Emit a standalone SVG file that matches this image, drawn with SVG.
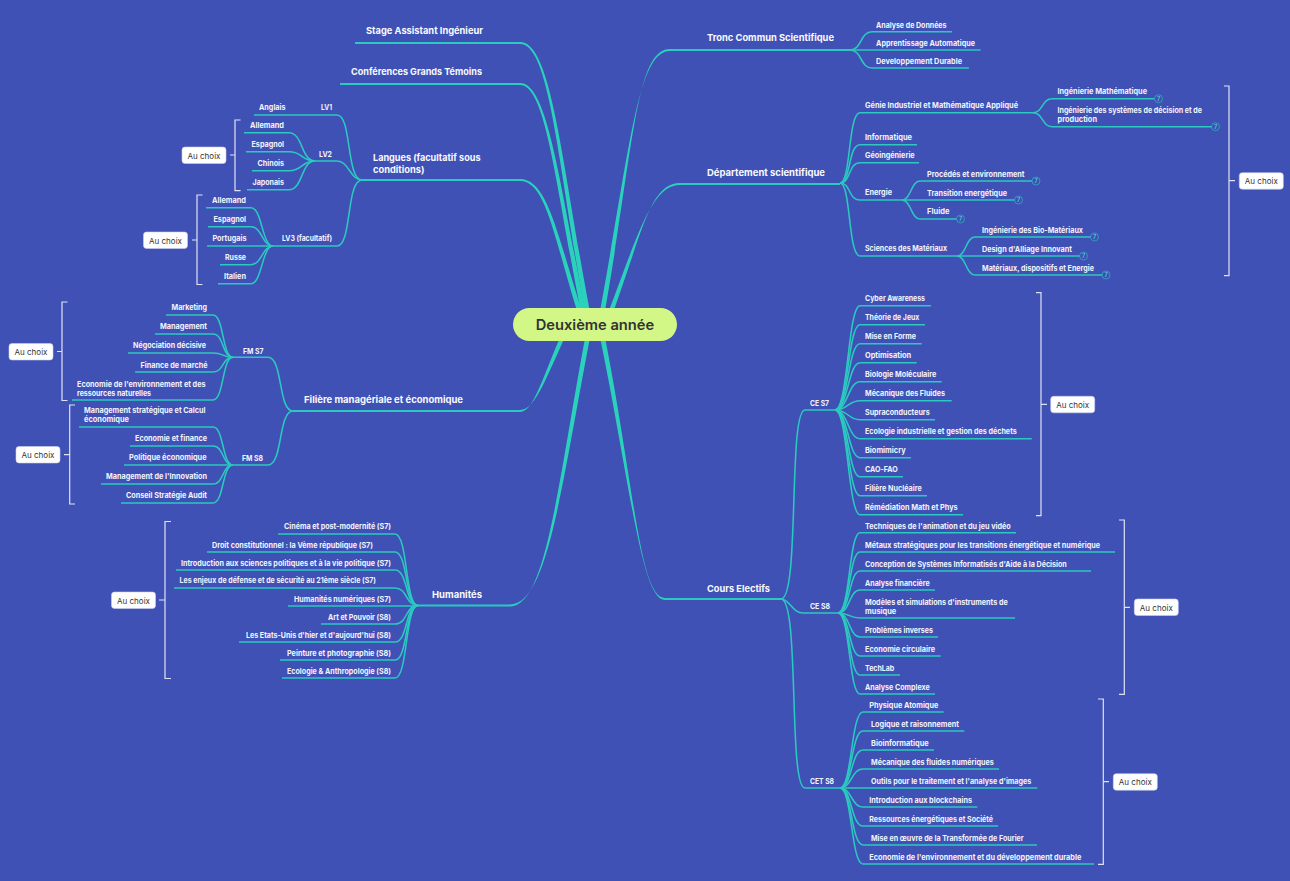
<svg xmlns="http://www.w3.org/2000/svg" width="1290" height="881" viewBox="0 0 1290 881">
<style>
text{font-family:"Inter","Liberation Sans",sans-serif;dominant-baseline:central}
.s{font-size:7.8px;font-weight:700;fill:#f2f3fc}
.m{font-size:9.4px;font-weight:700;fill:#f8f9fe}
.b{font-size:8px;font-weight:400;fill:#333;text-anchor:middle}
.root{font-size:14.5px;font-weight:600;fill:#333}
.bx{fill:#fff;stroke:#c9cdec;stroke-width:.6}
.br{fill:none;stroke:#dfe2f5;stroke-width:1.2}
.l0{fill:none;stroke:#2bc9bf;stroke-width:1.9}
.l1{fill:none;stroke:#2bc9bf;stroke-width:1.55}
.tp{fill:#2bd2bb}
.bd{fill:#3f51b5;stroke:#2bb6c4;stroke-width:.7}
.bt{font-size:5.5px;font-weight:600;fill:#4fd0d0;text-anchor:middle}
</style>
<rect width="1290" height="881" fill="#3f51b5"/>
<g id="connectors">
<path class="l0" d="M355,43H520M340,84H520M362,180H520M293,411H520M418,605.5H510M670,50H850M680,184H840M665,599H781"/>
<path class="tp" d="M520,42C553,42 562,170 592.5,325L587.5,325C558,170 551,44 520,44Z"/>
<path class="tp" d="M520,83C549,83 560,190 588.5,325L583.5,325C556,190 547,85 520,85Z"/>
<path class="tp" d="M520,179C549,179 558,240 586.5,325L581.5,325C554,240 547,181 520,181Z"/>
<path class="tp" d="M520,410C536,410 547,375 570.5,325L565.5,325C543,375 534,412 520,412Z"/>
<path class="tp" d="M510,604.5C549,604.5 562,480 592.5,325L587.5,325C558,480 547,606.5 510,606.5Z"/>
<path class="tp" d="M670,49C635,49 634,150 602.5,325L597.5,325C630,150 637,51 670,51Z"/>
<path class="tp" d="M680,183C649,183 642,235 608.5,325L603.5,325C638,235 651,185 680,185Z"/>
<path class="tp" d="M665,598C639,598 634,480 602.5,325L597.5,325C630,480 641,600 665,600Z"/>
<g class="l1">
<path d="M254,115H337C352,115 346,180 362,180"/>
<path d="M315,161H337C349,161 350,180 362,180"/>
<path d="M273,246H337C352,246 346,180 362,180"/>
<path d="M244,132.7H289C303,132.7 301,161 315,161"/>
<path d="M246,151.7H289C303,151.7 301,161 315,161"/>
<path d="M252,170.7H289C303,170.7 301,161 315,161"/>
<path d="M247,189.7H289C303,189.7 301,161 315,161"/>
<path d="M206,207.7H251C262,207.7 262,246 273,246"/>
<path d="M208,226.7H251C262,226.7 262,246 273,246"/>
<path d="M207,246H273"/>
<path d="M220,264.7H251C262,264.7 262,246 273,246"/>
<path d="M218,283.7H251C262,283.7 262,246 273,246"/>
<path d="M233,357.3H268C283,357.3 278,411 293,411"/>
<path d="M233,465H268C283,465 278,411 293,411"/>
<path d="M166,315H213C224,315 222,357.3 233,357.3"/>
<path d="M155,334H213C224,334 222,357.3 233,357.3"/>
<path d="M128,353H213C224,353 222,357.3 233,357.3"/>
<path d="M135,372H213C224,372 222,357.3 233,357.3"/>
<path d="M72,400H213C224,400 222,357.3 233,357.3"/>
<path d="M79,427H213C224,427 222,465 233,465"/>
<path d="M130,446H213C224,446 222,465 233,465"/>
<path d="M124,465H233"/>
<path d="M101,484H213C224,484 222,465 233,465"/>
<path d="M121,503H213C224,503 222,465 233,465"/>
<path d="M278,534H395C408,534 405,605.5 418,605.5"/>
<path d="M207,552H395C408,552 405,605.5 418,605.5"/>
<path d="M176,570H395C408,570 405,605.5 418,605.5"/>
<path d="M174,588H395C408,588 405,605.5 418,605.5"/>
<path d="M288,606H418"/>
<path d="M321,624H395C408,624 405,605.5 418,605.5"/>
<path d="M239,642H395C408,642 405,605.5 418,605.5"/>
<path d="M280,660H395C408,660 405,605.5 418,605.5"/>
<path d="M282,678H395C408,678 405,605.5 418,605.5"/>
<path d="M952,31.7H872C860,31.7 862,50 850,50"/>
<path d="M980.5,50H850"/>
<path d="M969,68H872C860,68 862,50 850,50"/>
<path d="M1033,112.7H860C848,112.7 851,183 840,183"/>
<path d="M917,144.7H860C848,144.7 851,183 840,183"/>
<path d="M919,162.7H860C848,162.7 851,183 840,183"/>
<path d="M902,200H860C848,200 851,183 840,183"/>
<path d="M957,256H860C848,256 851,183 840,183"/>
<path d="M1155,98.7H1052C1042,98.7 1043,112.7 1033,112.7"/>
<path d="M1212,126.7H1052C1042,126.7 1043,112.7 1033,112.7"/>
<path d="M1033,181H920C911,181 911,200 902,200"/>
<path d="M1015,200H902"/>
<path d="M957,219H920C911,219 911,200 902,200"/>
<path d="M1091,237H975C966,237 966,256 957,256"/>
<path d="M1080,256H957"/>
<path d="M1103,275H975C966,275 966,256 957,256"/>
<path d="M805,410H835M781,599C800,599 788,410 805,410"/>
<path d="M803,613H838M781,599C790,599 792,613 803,613"/>
<path d="M805,788H840M781,599C800,599 788,788 805,788"/>
<path d="M931,305.7H860C848,305.7 848,410 835,410"/>
<path d="M925,324.7H860C848,324.7 848,410 835,410"/>
<path d="M921.7,343.7H860C848,343.7 848,410 835,410"/>
<path d="M916.7,362.7H860C848,362.7 848,410 835,410"/>
<path d="M941.7,381.7H860C848,381.7 848,410 835,410"/>
<path d="M951.7,400.7H860C848,400.7 848,410 835,410"/>
<path d="M935,419.7H860C848,419.7 848,410 835,410"/>
<path d="M1031.7,438.7H860C848,438.7 848,410 835,410"/>
<path d="M911,457.7H860C848,457.7 848,410 835,410"/>
<path d="M903,476.7H860C848,476.7 848,410 835,410"/>
<path d="M927,495.7H860C848,495.7 848,410 835,410"/>
<path d="M963,514.7H860C848,514.7 848,410 835,410"/>
<path d="M1016,532.7H860C849,532.7 850,613 838,613"/>
<path d="M1115,552H860C849,552 850,613 838,613"/>
<path d="M1091,571H860C849,571 850,613 838,613"/>
<path d="M935,590H860C849,590 850,613 838,613"/>
<path d="M1015,618H860C849,618 850,613 838,613"/>
<path d="M938,637H860C849,637 850,613 838,613"/>
<path d="M940.7,656H860C849,656 850,613 838,613"/>
<path d="M900,675H860C849,675 850,613 838,613"/>
<path d="M935,694H860C849,694 850,613 838,613"/>
<path d="M943.7,712H863C851,712 852,788 840,788"/>
<path d="M964.3,731H863C851,731 852,788 840,788"/>
<path d="M934,750H863C851,750 852,788 840,788"/>
<path d="M999,769H863C851,769 852,788 840,788"/>
<path d="M1037.3,788H840"/>
<path d="M977.3,807H863C851,807 852,788 840,788"/>
<path d="M998,826H863C851,826 852,788 840,788"/>
<path d="M1037,845H863C851,845 852,788 840,788"/>
<path d="M1094,864H863C851,864 852,788 840,788"/>
</g>
</g>
<g id="brackets">
<path class="br" d="M240.6,120H235V190.7H240.6M235,155H230"/>
<path class="br" d="M202.5,195H197V284.5H202.5M197,240H192"/>
<path class="br" d="M67.5,302H62V400.5H67.5M62,351.5H57"/>
<path class="br" d="M75,405H69.7V504H75M69.7,454.7H64"/>
<path class="br" d="M171,521.5H165V678.5H171M165,600H159"/>
<path class="br" d="M1224,86H1229V275.7H1224M1229,180.7H1235"/>
<path class="br" d="M1036,292.7H1041V515.7H1036M1041,404.3H1047"/>
<path class="br" d="M1119,520H1124.3V694.3H1119M1124.3,607.3H1130"/>
<path class="br" d="M1098,699H1103.3V864.3H1098M1103.3,781.7H1109"/>
</g>
<g id="root"><rect x="513" y="308" width="164" height="33" rx="16.5" fill="#d2f786"/><text class="root" x="535.7" y="324.5" textLength="118.5" lengthAdjust="spacingAndGlyphs">Deuxième année</text></g>
<g id="stage"><text class="m" x="366" y="30.5" textLength="117" lengthAdjust="spacingAndGlyphs">Stage Assistant Ingénieur</text></g>
<g id="conferences"><text class="m" x="351" y="71.5" textLength="131" lengthAdjust="spacingAndGlyphs">Conférences Grands Témoins</text></g>
<g id="langues"><text class="m" x="373" y="157" textLength="107.5" lengthAdjust="spacingAndGlyphs">Langues (facultatif sous</text><text class="m" x="373" y="169" textLength="51.5" lengthAdjust="spacingAndGlyphs">conditions)</text></g>
<g id="filiere"><text class="m" x="304" y="399.5" textLength="159" lengthAdjust="spacingAndGlyphs">Filière managériale et économique</text></g>
<g id="humanites"><text class="m" x="432" y="594" textLength="50" lengthAdjust="spacingAndGlyphs">Humanités</text></g>
<g id="tronc"><text class="m" x="707" y="37.5" textLength="127" lengthAdjust="spacingAndGlyphs">Tronc Commun Scientifique</text></g>
<g id="departement"><text class="m" x="707" y="172.5" textLength="118" lengthAdjust="spacingAndGlyphs">Département scientifique</text></g>
<g id="cours"><text class="m" x="707" y="588" textLength="63" lengthAdjust="spacingAndGlyphs">Cours Electifs</text></g>
<g id="lv1"><text class="s" x="321" y="107" textLength="11" lengthAdjust="spacingAndGlyphs">LV1</text></g>
<g id="lv2"><text class="s" x="319" y="154" textLength="13" lengthAdjust="spacingAndGlyphs">LV2</text></g>
<g id="lv3"><text class="s" x="282" y="238" textLength="50" lengthAdjust="spacingAndGlyphs">LV3 (facultatif)</text></g>
<g id="anglais"><text class="s" x="259" y="107" textLength="26.5" lengthAdjust="spacingAndGlyphs">Anglais</text></g>
<g id="lv2-1"><text class="s" x="250" y="125" textLength="34" lengthAdjust="spacingAndGlyphs">Allemand</text></g>
<g id="lv2-2"><text class="s" x="251.5" y="144" textLength="32.5" lengthAdjust="spacingAndGlyphs">Espagnol</text></g>
<g id="lv2-3"><text class="s" x="257.5" y="163" textLength="26.5" lengthAdjust="spacingAndGlyphs">Chinois</text></g>
<g id="lv2-4"><text class="s" x="252.5" y="182" textLength="31.5" lengthAdjust="spacingAndGlyphs">Japonais</text></g>
<g id="lv3-1"><text class="s" x="212" y="200" textLength="34" lengthAdjust="spacingAndGlyphs">Allemand</text></g>
<g id="lv3-2"><text class="s" x="213.5" y="219" textLength="32.5" lengthAdjust="spacingAndGlyphs">Espagnol</text></g>
<g id="lv3-3"><text class="s" x="212.5" y="238" textLength="34" lengthAdjust="spacingAndGlyphs">Portugais</text></g>
<g id="lv3-4"><text class="s" x="225" y="257" textLength="21" lengthAdjust="spacingAndGlyphs">Russe</text></g>
<g id="lv3-5"><text class="s" x="224" y="276" textLength="22" lengthAdjust="spacingAndGlyphs">Italien</text></g>
<g id="fms7"><text class="s" x="243" y="350.5" textLength="20.5" lengthAdjust="spacingAndGlyphs">FM S7</text></g>
<g id="fms8"><text class="s" x="242" y="457.5" textLength="21" lengthAdjust="spacingAndGlyphs">FM S8</text></g>
<g id="f7-1"><text class="s" x="171.5" y="307" textLength="35.5" lengthAdjust="spacingAndGlyphs">Marketing</text></g>
<g id="f7-2"><text class="s" x="160" y="326" textLength="47" lengthAdjust="spacingAndGlyphs">Management</text></g>
<g id="f7-3"><text class="s" x="133" y="345" textLength="73" lengthAdjust="spacingAndGlyphs">Négociation décisive</text></g>
<g id="f7-4"><text class="s" x="140.5" y="364.5" textLength="67" lengthAdjust="spacingAndGlyphs">Finance de marché</text></g>
<g id="f7-5"><text class="s" x="77" y="383.5" textLength="128.5" lengthAdjust="spacingAndGlyphs">Economie de l'environnement et des</text><text class="s" x="77" y="392.5" textLength="74" lengthAdjust="spacingAndGlyphs">ressources naturelles</text></g>
<g id="f8-1"><text class="s" x="84" y="410" textLength="121.5" lengthAdjust="spacingAndGlyphs">Management stratégique et Calcul</text><text class="s" x="84" y="419" textLength="45" lengthAdjust="spacingAndGlyphs">économique</text></g>
<g id="f8-2"><text class="s" x="135" y="438" textLength="72" lengthAdjust="spacingAndGlyphs">Economie et finance</text></g>
<g id="f8-3"><text class="s" x="129" y="457" textLength="77.5" lengthAdjust="spacingAndGlyphs">Politique économique</text></g>
<g id="f8-4"><text class="s" x="106" y="476" textLength="101" lengthAdjust="spacingAndGlyphs">Management de l'Innovation</text></g>
<g id="f8-5"><text class="s" x="126" y="495" textLength="81" lengthAdjust="spacingAndGlyphs">Conseil Stratégie Audit</text></g>
<g id="h-1"><text class="s" x="284" y="526" textLength="107" lengthAdjust="spacingAndGlyphs">Cinéma et post-modernité (S7)</text></g>
<g id="h-2"><text class="s" x="212" y="544.5" textLength="161" lengthAdjust="spacingAndGlyphs">Droit constitutionnel : la Vème république (S7)</text></g>
<g id="h-3"><text class="s" x="181" y="562.5" textLength="210" lengthAdjust="spacingAndGlyphs">Introduction aux sciences politiques et à la vie politique (S7)</text></g>
<g id="h-4"><text class="s" x="179.5" y="580" textLength="196.5" lengthAdjust="spacingAndGlyphs">Les enjeux de défense et de sécurité au 21ème siècle (S7)</text></g>
<g id="h-5"><text class="s" x="294" y="598.5" textLength="97" lengthAdjust="spacingAndGlyphs">Humanités numériques (S7)</text></g>
<g id="h-6"><text class="s" x="328" y="616.5" textLength="63" lengthAdjust="spacingAndGlyphs">Art et Pouvoir (S8)</text></g>
<g id="h-7"><text class="s" x="246" y="634.5" textLength="145" lengthAdjust="spacingAndGlyphs">Les Etats-Unis d'hier et d'aujourd'hui  (S8)</text></g>
<g id="h-8"><text class="s" x="287" y="652.5" textLength="104" lengthAdjust="spacingAndGlyphs">Peinture et photographie (S8)</text></g>
<g id="h-9"><text class="s" x="287" y="670.5" textLength="104" lengthAdjust="spacingAndGlyphs">Ecologie &amp; Anthropologie (S8)</text></g>
<g id="t-1"><text class="s" x="876" y="24.5" textLength="70.5" lengthAdjust="spacingAndGlyphs">Analyse de Données</text></g>
<g id="t-2"><text class="s" x="876" y="42.5" textLength="99" lengthAdjust="spacingAndGlyphs">Apprentissage Automatique</text></g>
<g id="t-3"><text class="s" x="876" y="60.5" textLength="86" lengthAdjust="spacingAndGlyphs">Developpement Durable</text></g>
<g id="d-1"><text class="s" x="865" y="105" textLength="153" lengthAdjust="spacingAndGlyphs">Génie Industriel et Mathématique Appliqué</text></g>
<g id="d-2"><text class="s" x="865" y="137" textLength="47" lengthAdjust="spacingAndGlyphs">Informatique</text></g>
<g id="d-3"><text class="s" x="865" y="155" textLength="49.7" lengthAdjust="spacingAndGlyphs">Géoingénierie</text></g>
<g id="d-4"><text class="s" x="865" y="192" textLength="27" lengthAdjust="spacingAndGlyphs">Energie</text></g>
<g id="d-5"><text class="s" x="865" y="248" textLength="82" lengthAdjust="spacingAndGlyphs">Sciences des Matériaux</text></g>
<g id="d-1-1"><text class="s" x="1057.5" y="91" textLength="89.5" lengthAdjust="spacingAndGlyphs">Ingénierie Mathématique</text><circle class="bd" cx="1158.5" cy="98.7" r="4"/><text class="bt" x="1158.5" y="98.9">7</text></g>
<g id="d-1-2"><text class="s" x="1057.5" y="110" textLength="144.5" lengthAdjust="spacingAndGlyphs">Ingénierie des systèmes de décision et de</text><text class="s" x="1057.5" y="119" textLength="39.5" lengthAdjust="spacingAndGlyphs">production</text><circle class="bd" cx="1215.5" cy="126.7" r="4"/><text class="bt" x="1215.5" y="126.9">7</text></g>
<g id="d-4-1"><text class="s" x="927" y="173.5" textLength="97.5" lengthAdjust="spacingAndGlyphs">Procédés et environnement</text><circle class="bd" cx="1036" cy="181" r="4"/><text class="bt" x="1036" y="181.2">7</text></g>
<g id="d-4-2"><text class="s" x="927" y="192.5" textLength="80" lengthAdjust="spacingAndGlyphs">Transition energétique</text><circle class="bd" cx="1018.5" cy="200" r="4"/><text class="bt" x="1018.5" y="200.2">7</text></g>
<g id="d-4-3"><text class="s" x="927" y="211" textLength="22.5" lengthAdjust="spacingAndGlyphs">Fluide</text><circle class="bd" cx="960.5" cy="219" r="4"/><text class="bt" x="960.5" y="219.2">7</text></g>
<g id="d-5-1"><text class="s" x="982" y="229.5" textLength="101" lengthAdjust="spacingAndGlyphs">Ingénierie des Bio-Matériaux</text><circle class="bd" cx="1094.5" cy="237" r="4"/><text class="bt" x="1094.5" y="237.2">7</text></g>
<g id="d-5-2"><text class="s" x="982" y="248.5" textLength="90" lengthAdjust="spacingAndGlyphs">Design d'Alliage Innovant</text><circle class="bd" cx="1083.5" cy="256" r="4"/><text class="bt" x="1083.5" y="256.2">7</text></g>
<g id="d-5-3"><text class="s" x="982" y="267.5" textLength="112" lengthAdjust="spacingAndGlyphs">Matériaux, dispositifs et Energie</text><circle class="bd" cx="1106" cy="275" r="4"/><text class="bt" x="1106" y="275.2">7</text></g>
<g id="ces7"><text class="s" x="810" y="403" textLength="19" lengthAdjust="spacingAndGlyphs">CE S7</text></g>
<g id="ces8"><text class="s" x="810" y="606" textLength="20" lengthAdjust="spacingAndGlyphs">CE S8</text></g>
<g id="cets8"><text class="s" x="810" y="781" textLength="24" lengthAdjust="spacingAndGlyphs">CET S8</text></g>
<g id="c7-1"><text class="s" x="865" y="298.3" textLength="60" lengthAdjust="spacingAndGlyphs">Cyber Awareness</text></g>
<g id="c7-2"><text class="s" x="865" y="317.3" textLength="54.3" lengthAdjust="spacingAndGlyphs">Théorie de Jeux</text></g>
<g id="c7-3"><text class="s" x="865" y="336.3" textLength="51" lengthAdjust="spacingAndGlyphs">Mise en Forme</text></g>
<g id="c7-4"><text class="s" x="865" y="355.3" textLength="46" lengthAdjust="spacingAndGlyphs">Optimisation</text></g>
<g id="c7-5"><text class="s" x="865" y="374.3" textLength="71.3" lengthAdjust="spacingAndGlyphs">Biologie Moléculaire</text></g>
<g id="c7-6"><text class="s" x="865" y="393.3" textLength="80" lengthAdjust="spacingAndGlyphs">Mécanique des Fluides</text></g>
<g id="c7-7"><text class="s" x="865" y="412.3" textLength="64.7" lengthAdjust="spacingAndGlyphs">Supraconducteurs</text></g>
<g id="c7-8"><text class="s" x="865" y="431.3" textLength="151.7" lengthAdjust="spacingAndGlyphs">Ecologie industrielle et gestion des déchets</text></g>
<g id="c7-9"><text class="s" x="865" y="450.3" textLength="40.7" lengthAdjust="spacingAndGlyphs">Biomimicry</text></g>
<g id="c7-10"><text class="s" x="865" y="469.3" textLength="32.7" lengthAdjust="spacingAndGlyphs">CAO-FAO</text></g>
<g id="c7-11"><text class="s" x="865" y="488.3" textLength="56.7" lengthAdjust="spacingAndGlyphs">Filière Nucléaire</text></g>
<g id="c7-12"><text class="s" x="865" y="507.3" textLength="92.7" lengthAdjust="spacingAndGlyphs">Rémédiation Math et Phys</text></g>
<g id="c8-1"><text class="s" x="865" y="525.5" textLength="145.7" lengthAdjust="spacingAndGlyphs">Techniques de l'animation et du jeu vidéo</text></g>
<g id="c8-2"><text class="s" x="865" y="544.5" textLength="235" lengthAdjust="spacingAndGlyphs">Métaux stratégiques pour les transitions énergétique et numérique</text></g>
<g id="c8-3"><text class="s" x="865" y="563.5" textLength="201.7" lengthAdjust="spacingAndGlyphs">Conception de Systèmes Informatisés d'Aide à la Décision</text></g>
<g id="c8-4"><text class="s" x="865" y="582.5" textLength="64.7" lengthAdjust="spacingAndGlyphs">Analyse financière</text></g>
<g id="c8-5"><text class="s" x="865" y="601.5" textLength="142.7" lengthAdjust="spacingAndGlyphs">Modèles et simulations d'instruments de</text><text class="s" x="865" y="610.5" textLength="31.3" lengthAdjust="spacingAndGlyphs">musique</text></g>
<g id="c8-6"><text class="s" x="865" y="629.5" textLength="68" lengthAdjust="spacingAndGlyphs">Problèmes inverses</text></g>
<g id="c8-7"><text class="s" x="865" y="648.5" textLength="70" lengthAdjust="spacingAndGlyphs">Economie circulaire</text></g>
<g id="c8-8"><text class="s" x="865" y="667.5" textLength="29.3" lengthAdjust="spacingAndGlyphs">TechLab</text></g>
<g id="c8-9"><text class="s" x="865" y="686.5" textLength="64.7" lengthAdjust="spacingAndGlyphs">Analyse Complexe</text></g>
<g id="e-1"><text class="s" x="869.3" y="704.5" textLength="69" lengthAdjust="spacingAndGlyphs">Physique Atomique</text></g>
<g id="e-2"><text class="s" x="871" y="723.5" textLength="88" lengthAdjust="spacingAndGlyphs">Logique et raisonnement</text></g>
<g id="e-3"><text class="s" x="871" y="742.5" textLength="57.7" lengthAdjust="spacingAndGlyphs">Bioinformatique</text></g>
<g id="e-4"><text class="s" x="871" y="761.5" textLength="122.7" lengthAdjust="spacingAndGlyphs">Mécanique des fluides numériques</text></g>
<g id="e-5"><text class="s" x="871" y="780.5" textLength="160.3" lengthAdjust="spacingAndGlyphs">Outils pour le traitement et l'analyse d'images</text></g>
<g id="e-6"><text class="s" x="869.3" y="799.5" textLength="102.7" lengthAdjust="spacingAndGlyphs">Introduction aux blockchains</text></g>
<g id="e-7"><text class="s" x="869.3" y="818.5" textLength="123.7" lengthAdjust="spacingAndGlyphs">Ressources énergétiques et Société</text></g>
<g id="e-8"><text class="s" x="871" y="837.5" textLength="152.7" lengthAdjust="spacingAndGlyphs">Mise en œuvre de la Transformée de Fourier</text></g>
<g id="e-9"><text class="s" x="869.3" y="856.5" textLength="212" lengthAdjust="spacingAndGlyphs">Economie de l'environnement et du développement durable</text></g>
<g id="ac-1"><rect class="bx" x="182" y="147" width="44" height="16.5" rx="3"/><text class="b" x="204" y="155.5">Au choix</text></g>
<g id="ac-2"><rect class="bx" x="143.5" y="232" width="44" height="16.5" rx="3"/><text class="b" x="165.5" y="240.5">Au choix</text></g>
<g id="ac-3"><rect class="bx" x="9" y="343.5" width="44" height="16.5" rx="3"/><text class="b" x="31" y="352">Au choix</text></g>
<g id="ac-4"><rect class="bx" x="16" y="446.5" width="44" height="16.5" rx="3"/><text class="b" x="38" y="455">Au choix</text></g>
<g id="ac-5"><rect class="bx" x="111.5" y="592" width="44" height="16.5" rx="3"/><text class="b" x="133.5" y="600.5">Au choix</text></g>
<g id="ac-6"><rect class="bx" x="1239.3" y="172.7" width="44" height="16.5" rx="3"/><text class="b" x="1261.3" y="181">Au choix</text></g>
<g id="ac-7"><rect class="bx" x="1050.7" y="396.3" width="44" height="16.5" rx="3"/><text class="b" x="1072.7" y="404.7">Au choix</text></g>
<g id="ac-8"><rect class="bx" x="1134.3" y="599" width="44" height="16.5" rx="3"/><text class="b" x="1156.3" y="607.5">Au choix</text></g>
<g id="ac-9"><rect class="bx" x="1113.3" y="773.7" width="44" height="16.5" rx="3"/><text class="b" x="1135.3" y="782">Au choix</text></g>
</svg>
